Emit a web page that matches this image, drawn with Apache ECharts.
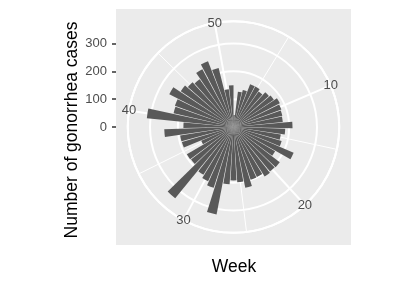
<!DOCTYPE html>
<html><head><meta charset="utf-8">
<script src="https://cdn.jsdelivr.net/npm/echarts@6/dist/echarts.min.js"></script>
<style>html,body{margin:0;padding:0;background:#fff}#c{width:415px;height:284px}</style>
</head><body><div id="c"></div>
<script>
const weeks = Array.from({length: 51}, (_, i) => i + 1);
const cases = [43,128,137,165,165,156,169,175,187,183,180,178,212,186,172,180,235,173,209,207,210,198,199,222,199,192,206,320,230,215,203,331,192,194,126,193,194,249,180,313,221,224,259,229,218,210,236,253,219,137,150];
const rTicks = [0, 100, 200, 300];
const thetaMajor = [10, 20, 30, 40, 50];
const thetaMinor = [5, 15, 25, 35, 45];
const thetaLabels = ['10', '20', '30', '40', '50'];

const R_MAX = 380;
const CX = 233.5, CY = 127, RAD = 105.75;
const FONT = 'Liberation Sans, Arial, sans-serif';

const chart = echarts.init(document.getElementById('c'), null, {renderer: 'canvas'});

function spokeRender(width) {
  return function (params, api) {
    const t = api.value(1);
    const p0 = api.coord([0, t]);
    const p1 = api.coord([R_MAX, t]);
    return {type: 'line', shape: {x1: p0[0], y1: p0[1], x2: p1[0], y2: p1[1]},
      style: {stroke: '#ffffff', lineWidth: width}};
  };
}

chart.setOption({
  animation: false,
  backgroundColor: '#ffffff',
  graphic: [
    {type: 'rect', z: -10, shape: {x: 116, y: 9, width: 235, height: 236}, style: {fill: '#EBEBEB'}},
    {type: 'text', x: 72, y: 130, rotation: Math.PI / 2,
      style: {text: 'Number of gonorrhea cases', fontSize: 17.5, fontFamily: FONT, fill: '#000', align: 'center', verticalAlign: 'middle'}},
    {type: 'text', x: 234, y: 267,
      style: {text: 'Week', fontSize: 17.5, fontFamily: FONT, fill: '#000', align: 'center', verticalAlign: 'middle'}}
  ],
  polar: {center: [CX, CY], radius: RAD},
  angleAxis: {
    type: 'value', min: 0.55, max: 51.45, startAngle: 90, clockwise: true,
    axisLine: {show: true, lineStyle: {color: '#ffffff', width: 2}},
    axisTick: {show: false}, axisLabel: {show: false}, splitLine: {show: false}
  },
  radiusAxis: {
    type: 'value', min: 0, max: R_MAX, interval: 100,
    axisLine: {show: false}, axisTick: {show: false}, axisLabel: {show: false},
    splitLine: {show: true, lineStyle: {color: '#ffffff', width: 2}}
  },
  grid: {left: 116, top: CY - RAD, width: 1, height: RAD},
  xAxis: {type: 'value', show: false},
  yAxis: {
    type: 'value', min: 0, max: R_MAX, position: 'left',
    axisLine: {show: false},
    splitLine: {show: false},
    axisTick: {show: true, length: 4, lineStyle: {color: '#333333', width: 1.5}, customValues: rTicks},
    axisLabel: {customValues: rTicks, color: '#4D4D4D', fontSize: 13, fontFamily: FONT, margin: 9}
  },
  series: [
    {type: 'custom', coordinateSystem: 'polar', z: 1, silent: true,
      data: thetaMinor.map(t => [R_MAX, t]), renderItem: spokeRender(1)},
    {type: 'custom', coordinateSystem: 'polar', z: 1, silent: true,
      data: thetaMajor.map(t => [R_MAX, t]), renderItem: spokeRender(2)},
    {type: 'bar', coordinateSystem: 'polar', z: 3, barCategoryGap: '10%',
      itemStyle: {color: '#595959'},
      data: weeks.map((w, i) => [cases[i], w])},
    {type: 'custom', coordinateSystem: 'polar', z: 5, silent: true,
      data: thetaMajor.map((t, i) => [R_MAX, t, i]),
      renderItem: function (params, api) {
        const t = api.value(1);
        const p = api.coord([R_MAX, t]);
        return {type: 'text', x: p[0], y: p[1],
          style: {text: thetaLabels[params.dataIndex], fontSize: 13, fontFamily: FONT, fill: '#4D4D4D', align: 'center', verticalAlign: 'middle'}};
      }}
  ]
});
</script>
</body></html>
